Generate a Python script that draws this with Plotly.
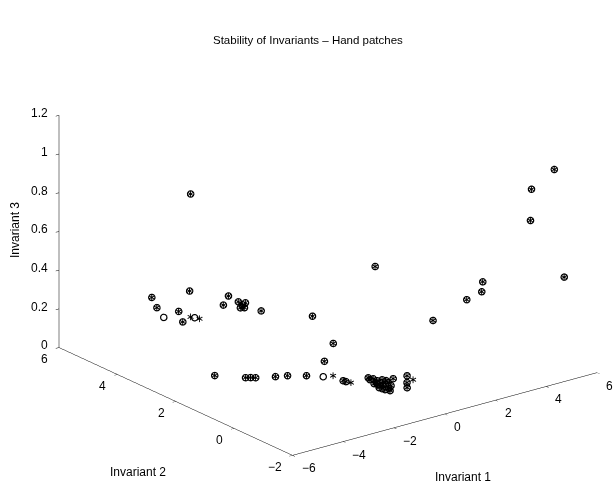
import plotly.graph_objects as go

# Series "o" (circle markers): Invariant 1, 2, 3
inv1_o = [-3.85, -3.20, -3.07, -2.95, -2.40, -2.05, -1.58, -1.22, -0.94, -0.92, -0.16,
          -0.09, -0.10, -0.13, -0.16, -0.20, -0.23, -0.40, -0.29, 0.07, -0.23,
          -0.22, -0.33, -0.42, -0.38, -0.31, 0.13, 0.08, -0.02,
          0.41, 0.91, 0.54, 0.27,
          -1.30, -0.95, -1.77,
          0.68, 2.01, 2.60, 2.64, -1.60, 5.85, 4.52, 4.56, 5.46,
          -3.50, -3.30, -3.03, -2.44, -2.28, -2.01, -1.81, -0.68, -0.48,
          -0.09, 0.07, 0.19, -0.01, 0.15, 0.81, -1.97]
inv2_o = [2.54, 2.05, 1.99, 1.92, 1.72, 1.61, 1.37, 1.11, 0.67, 0.59, 0.49,
          0.38, 0.24, 0.11, -0.02, -0.15, -0.28, -0.20, 0.04, 0.01, 0.16,
          0.38, 0.14, -0.11, -0.28, -0.39, 0.13, 0.22, -0.17,
          0.13, 0.09, -0.23, -0.47,
          1.0, 1.0, 1.0,
          -1.0, -1.0, -1.0, -1.0, -1.0, -1.0, -1.0, -1.0, -1.0,
          5.0, 5.0, 5.0, 5.0, 5.0, 5.0, 5.0, 5.0, 5.0,
          5.0, 5.0, 5.0, 5.0, 5.0, 5.0, 5.0]
inv3_o = [0.02, 0.02, 0.02, 0.02, 0.02, 0.02, 0.02, 0.02, 0.02, 0.02, 0.02,
          0.02, 0.02, 0.02, 0.02, 0.02, 0.02, 0.02, 0.02, 0.02, 0.02,
          0.02, 0.02, 0.02, 0.02, 0.02, 0.02, 0.02, 0.02,
          0.02, 0.02, 0.02, 0.02,
          0.11, 0.19, 0.36,
          0.39, 0.45, 0.47, 0.52, 0.75, 0.43, 0.77, 0.93, 1.00,
          0.24, 0.18, 0.12, 0.13, 0.07, 0.22, 0.075, 0.10, 0.14,
          0.096, 0.075, 0.081, 0.062, 0.057, 0.017, 0.72]

# Series "*" (star markers)
inv1_s = [-3.85, -3.20, -3.07, -2.95, -2.40, -2.05, -1.58, -0.92, -0.94, -0.92, -0.85, -0.16,
          -0.09, -0.10, -0.13, -0.16, -0.20, -0.23, -0.40, -0.29, 0.07, -0.23,
          -0.22, -0.33, -0.42, -0.38, -0.31, 0.13, 0.08, -0.02,
          0.41, 0.91, 0.54, 0.27, 0.85,
          -1.30, -0.95, -1.77,
          0.68, 2.01, 2.60, 2.64, -1.60, 5.85, 4.52, 4.56, 5.46,
          -3.50, -3.30, -2.44, -2.28, -2.01, -1.97, -1.62, -0.68, -0.48,
          -0.09, 0.07, 0.19, -0.01, 0.15, 0.81, -1.97]
inv2_s = [2.54, 2.05, 1.99, 1.92, 1.72, 1.61, 1.37, 1.03, 0.67, 0.59, 0.48, 0.49,
          0.38, 0.24, 0.11, -0.02, -0.15, -0.28, -0.20, 0.04, 0.01, 0.16,
          0.38, 0.14, -0.11, -0.28, -0.39, 0.13, 0.22, -0.17,
          0.13, 0.09, -0.23, -0.47, -0.17,
          1.0, 1.0, 1.0,
          -1.0, -1.0, -1.0, -1.0, -1.0, -1.0, -1.0, -1.0, -1.0,
          5.0, 5.0, 5.0, 5.0, 5.0, 5.0, 5.0, 5.0, 5.0,
          5.0, 5.0, 5.0, 5.0, 5.0, 5.0, 5.0]
inv3_s = [0.02, 0.02, 0.02, 0.02, 0.02, 0.02, 0.02, 0.02, 0.02, 0.02, 0.02, 0.02,
          0.02, 0.02, 0.02, 0.02, 0.02, 0.02, 0.02, 0.02, 0.02, 0.02,
          0.02, 0.02, 0.02, 0.02, 0.02, 0.02, 0.02, 0.02,
          0.02, 0.02, 0.02, 0.02, 0.02,
          0.11, 0.19, 0.36,
          0.39, 0.45, 0.47, 0.52, 0.75, 0.43, 0.77, 0.93, 1.00,
          0.24, 0.18, 0.13, 0.07, 0.22, 0.085, 0.063, 0.10, 0.14,
          0.096, 0.075, 0.081, 0.062, 0.057, 0.017, 0.72]

x_ticks = [-6, -4, -2, 0, 2, 4, 6]
x_labels = ["\u22126", "\u22124", "\u22122", "0", "2", "4", "6"]
y_ticks = [-2, 0, 2, 4, 6]
y_labels = ["\u22122", "0", "2", "4", "6"]
z_ticks = [0, 0.2, 0.4, 0.6, 0.8, 1, 1.2]
z_labels = ["0", "0.2", "0.4", "0.6", "0.8", "1", "1.2"]

X_MIN, X_MAX = -6, 6
Y_MIN, Y_MAX = -2, 6
Z_MIN, Z_MAX = 0, 1.2

W, H = 615, 483

fig = go.Figure()
fig.add_trace(go.Scatter3d(
    x=inv1_o, y=inv2_o, z=inv3_o, mode="markers",
    marker=dict(symbol="circle-open", size=4, color="black", line=dict(color="black", width=1)),
    showlegend=False, hoverinfo="skip"))
fig.add_trace(go.Scatter3d(
    x=inv1_s, y=inv2_s, z=inv3_s, mode="text", text=["\u2217"] * len(inv1_s),
    textposition="middle center",
    textfont=dict(family="DejaVu Sans", size=11, color="black"),
    showlegend=False, hoverinfo="skip"))

ax_common = dict(showgrid=False, showbackground=False, zeroline=False, showline=True,
                 linecolor="black", linewidth=1, ticks="outside", ticklen=4,
                 tickcolor="black", showspikes=False, title=dict(text=""),
                 showticklabels=False)

tick_font = dict(family="Liberation Sans", size=12, color="black")
scene_ann = []
for v, t in zip(x_ticks, x_labels):
    scene_ann.append(dict(x=v, y=Y_MIN, z=Z_MIN, text=t, showarrow=False, xanchor="left",
                          yanchor="middle", xshift=7, yshift=-13, font=tick_font))
for v, t in zip(y_ticks, y_labels):
    scene_ann.append(dict(x=X_MIN, y=v, z=Z_MIN, text=t, showarrow=False, xanchor="right",
                          yanchor="middle", xshift=-9, yshift=-12, font=tick_font))
for v, t in zip(z_ticks, z_labels):
    scene_ann.append(dict(x=X_MIN, y=Y_MAX, z=v, text=t, showarrow=False, xanchor="right",
                          yanchor="middle", xshift=-9, yshift=2, font=tick_font))

S = 1.626
fig.update_layout(
    width=W, height=H,
    margin=dict(l=0, r=0, t=0, b=0),
    paper_bgcolor="white",
    font=dict(family="Liberation Sans", color="black"),
    scene=dict(
        domain=dict(x=[0.0667, 1.0], y=[0.0063, 0.9835]),
        xaxis=dict(range=[X_MIN, X_MAX], tickvals=x_ticks, **ax_common),
        yaxis=dict(range=[Y_MIN, Y_MAX], tickvals=y_ticks, **ax_common),
        zaxis=dict(range=[Z_MIN, Z_MAX], tickvals=z_ticks, **ax_common),
        aspectmode="manual", aspectratio=dict(x=S, y=S, z=0.647 * S),
        camera=dict(eye=dict(x=-0.569 * 2.0, y=-0.742 * 2.0, z=0.354 * 2.0),
                    up=dict(x=0, y=0, z=1), center=dict(x=0, y=0, z=0),
                    projection=dict(type="orthographic")),
        annotations=scene_ann,
    ),
    annotations=[
        dict(text="Stability of Invariants \u2013 Hand patches", x=308 / W, y=1 - 40 / H,
             xref="paper", yref="paper", xanchor="center", yanchor="middle",
             showarrow=False, font=dict(size=11.5)),
        dict(text="Invariant 1", x=463 / W, y=1 - 477 / H, xref="paper", yref="paper",
             xanchor="center", yanchor="middle", showarrow=False, font=dict(size=12)),
        dict(text="Invariant 2", x=138 / W, y=1 - 472 / H, xref="paper", yref="paper",
             xanchor="center", yanchor="middle", showarrow=False, font=dict(size=12)),
        dict(text="Invariant 3", x=15 / W, y=1 - 230 / H, xref="paper", yref="paper",
             xanchor="center", yanchor="middle", showarrow=False, textangle=-90,
             font=dict(size=12)),
    ],
)

fig.write_html("out.html",
               config={"displayModeBar": False},
               post_script="document.body.style.margin='0';document.body.style.overflow='hidden';")
